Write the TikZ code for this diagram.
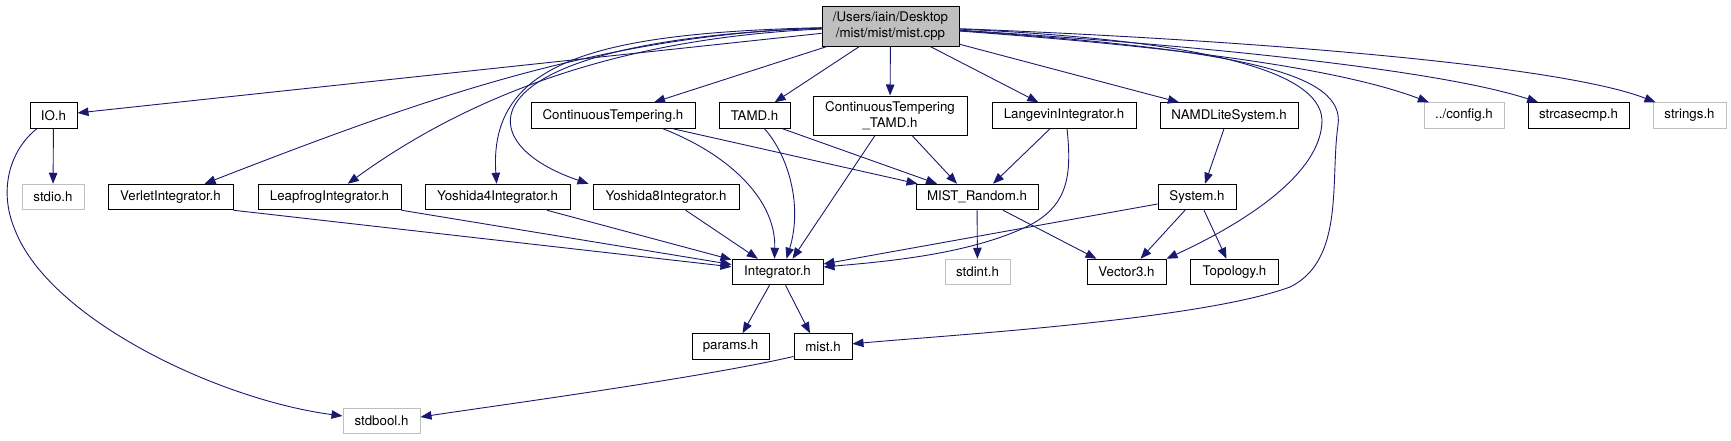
\documentclass[tikz,border=0pt]{standalone}
\usepackage{fontspec}
\setmainfont{TeX Gyre Heros}
\usetikzlibrary{arrows.meta}

\definecolor{edgeblue}{HTML}{191970}
\definecolor{sysgray}{HTML}{BFBFBF}

\begin{document}
\begin{tikzpicture}[
        x=1pt, y=-1pt,
        hdr/.style={draw=black, line width=1pt, inner sep=0pt, minimum height=25.5pt, align=center,
                    font=\fontsize{13.3}{16}\selectfont},
        syshdr/.style={hdr, draw=sysgray},
        arrow/.style={draw=edgeblue, line width=0.9pt, -{Triangle[length=11pt, width=8.5pt]}}
    ]
    \useasboundingbox (0,0) rectangle (1731,440);

    % Main file
    \node[hdr, fill=sysgray, minimum width=137pt, minimum height=40pt] (root) at (890.5,26)
        {/Users/iain/Desktop\\/mist/mist/mist.cpp};

    % Row 1
    \node[hdr, minimum width=47pt] (io) at (53.5,115.5) {IO.h};
    \node[hdr, minimum width=164pt] (ct) at (613,115.5) {ContinuousTempering.h};
    \node[hdr, minimum width=71pt] (tamd) at (754.5,115.5) {TAMD.h};
    \node[hdr, minimum width=154pt, minimum height=39pt] (cttamd) at (890,115.5)
        {ContinuousTempering\\\_TAMD.h};
    \node[hdr, minimum width=144pt] (langevin) at (1064,115.5) {LangevinIntegrator.h};
    \node[hdr, minimum width=138pt] (namd) at (1229,115.5) {NAMDLiteSystem.h};
    \node[syshdr, minimum width=80pt] (config) at (1464,115.5) {../config.h};
    \node[hdr, minimum width=101pt] (strcase) at (1578.5,115.5) {strcasecmp.h};
    \node[syshdr, minimum width=73pt] (strings) at (1689.5,115.5) {strings.h};

    % Row 2
    \node[syshdr, minimum width=62pt] (stdio) at (53,197) {stdio.h};
    \node[hdr, minimum width=125pt] (verlet) at (170.5,197) {VerletIntegrator.h};
    \node[hdr, minimum width=143pt] (leap) at (329.5,197) {LeapfrogIntegrator.h};
    \node[hdr, minimum width=145pt] (yosh4) at (497.5,197) {Yoshida4Integrator.h};
    \node[hdr, minimum width=146pt] (yosh8) at (666,197) {Yoshida8Integrator.h};
    \node[hdr, minimum width=122pt] (mistrnd) at (977,197) {MIST\_Random.h};
    \node[hdr, minimum width=78pt] (system) at (1197,197) {System.h};

    % Row 3
    \node[hdr, minimum width=91pt] (integ) at (777.5,272) {Integrator.h};
    \node[syshdr, minimum width=65pt] (stdint) at (977.5,272) {stdint.h};
    \node[hdr, minimum width=79pt] (vector3) at (1126.5,272) {Vector3.h};
    \node[hdr, minimum width=88pt] (topology) at (1234.5,272) {Topology.h};

    % Row 4 and 5
    \node[hdr, minimum width=77pt] (params) at (730.5,346.5) {params.h};
    \node[hdr, minimum width=58pt] (misth) at (823,346.5) {mist.h};
    \node[syshdr, minimum width=77pt] (stdbool) at (381.5,421) {stdbool.h};

    % Includes of mist.cpp
    \draw[arrow] (root) -- (io);
    \draw[arrow] (root) .. controls (600,35) and (420,100) .. (verlet);
    \draw[arrow] (root) .. controls (620,38) and (470,95) .. (leap);
    \draw[arrow] (root) .. controls (600,33) and (488,60) .. (yosh4);
    \draw[arrow] (root) .. controls (470,40) and (460,140) .. ([xshift=-4pt]yosh8.north west);
    \draw[arrow] (root) -- (ct);
    \draw[arrow] (root) -- (tamd);
    \draw[arrow] (root) -- (cttamd);
    \draw[arrow] (root) -- (langevin);
    \draw[arrow] (root) -- (namd);
    \draw[arrow] (root) .. controls (1150,45) and (1330,65) .. (config);
    \draw[arrow] (root) .. controls (1200,45) and (1440,70) .. (strcase);
    \draw[arrow] (root) .. controls (1250,40) and (1560,65) .. (strings);
    \draw[arrow] (root) .. controls (1200,40) and (1320,70) .. (1322,120)
        .. controls (1322,175) and (1240,225) .. (vector3.north east);
    \draw[arrow] (root) .. controls (1250,50) and (1345,75) .. (1338,125)
        .. controls (1330,180) and (1345,260) .. (1290,287)
        .. controls (1200,320) and (950,335) .. (misth);

    % IO.h
    \draw[arrow] (io) -- (stdio);
    \draw[arrow] (io) .. controls (10,150) and (-2,190) .. (15,230)
        .. controls (50,320) and (220,400) .. (stdbool);

    % Integrators
    \draw[arrow] (verlet.south east) -- (integ);
    \draw[arrow] (leap.south east) -- (integ);
    \draw[arrow] (yosh4) -- (integ);
    \draw[arrow] (yosh8) -- (integ);

    % Tempering and TAMD
    \draw[arrow] ([xshift=50pt]ct.south) .. controls (730,155) and (776,200) .. ([xshift=-3pt]integ.north);
    \draw[arrow] ([xshift=60pt]ct.south) -- ([xshift=2pt]mistrnd.north west);
    \draw[arrow] ([xshift=10pt]tamd.south) .. controls (788,155) and (803,205) .. ([xshift=9pt]integ.north);
    \draw[arrow] ([xshift=28pt]tamd.south) -- ([xshift=-40pt]mistrnd.north);
    \draw[arrow] ([xshift=-15pt]cttamd.south) -- ([xshift=15pt]integ.north);
    \draw[arrow] ([xshift=22pt]cttamd.south) -- ([xshift=-20pt]mistrnd.north);
    \draw[arrow] ([xshift=-14pt]langevin.south) -- ([xshift=16pt]mistrnd.north);
    \draw[arrow] ([xshift=3pt]langevin.south) .. controls (1072,175) and (1068,205) .. (1030,225)
        .. controls (970,255) and (880,262) .. ([yshift=5pt]integ.east);

    % System
    \draw[arrow] ([xshift=-5pt]namd.south) -- ([xshift=8pt]system.north);
    \draw[arrow] ([yshift=-7pt]system.west) -- ([yshift=8pt]integ.east);
    \draw[arrow] ([xshift=-12pt]system.south) -- ([xshift=14pt]vector3.north);
    \draw[arrow] ([xshift=7pt]system.south) -- ([xshift=-8pt]topology.north);

    % MIST_Random.h
    \draw[arrow] (mistrnd) -- (stdint);
    \draw[arrow] ([xshift=26pt]mistrnd.south) -- ([xshift=-30pt]vector3.north);

    % Integrator.h and mist.h
    \draw[arrow] ([xshift=-8pt]integ.south) -- ([xshift=12pt]params.north);
    \draw[arrow] ([xshift=8pt]integ.south) -- ([xshift=-13pt]misth.north);
    \draw[arrow] ([yshift=-10pt]misth.west) .. controls (700,378) and (500,405) .. ([yshift=4pt]stdbool.east);

\end{tikzpicture}
\end{document}
